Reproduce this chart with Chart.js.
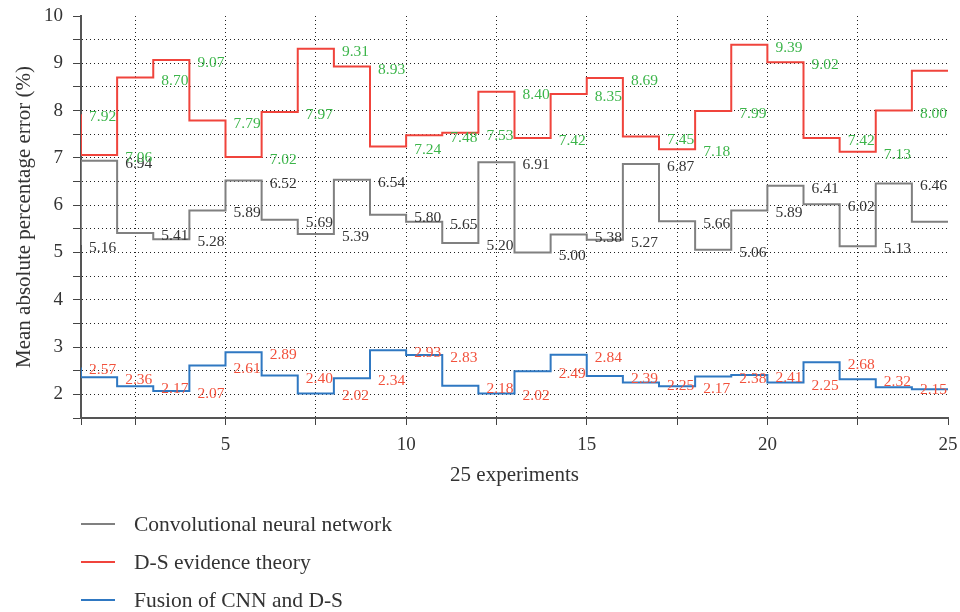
<!DOCTYPE html>
<html>
<head>
<meta charset="utf-8">
<script src="https://cdn.jsdelivr.net/npm/chart.js@4"></script>
<style>
  body { margin: 0; background: #fff; }
  #wrap { position: relative; width: 960px; height: 612px; }
  #legend {
    position: absolute; left: 81px; top: 505px;
    font-family: "Liberation Serif", "DejaVu Serif", serif;
    font-size: 21.5px; color: #333;
  }
  .row { height: 38px; display: flex; align-items: center; }
  .swatch { width: 34px; height: 2px; margin-right: 19px; }
</style>
</head>
<body>
<div id="wrap">
  <canvas id="chart" width="960" height="612"></canvas>
  <div id="legend"></div>
</div>
<script>
// Datos
const experiments = [1, 2, 3, 4, 5, 6, 7, 8, 9, 10, 11, 12, 13, 14, 15, 16, 17, 18, 19, 20, 21, 22, 23, 24, 25];
const cnnError = [5.16, 6.94, 5.41, 5.28, 5.89, 6.52, 5.69, 5.39, 6.54, 5.80, 5.65, 5.20, 6.91, 5.00, 5.38, 5.27, 6.87, 5.66, 5.06, 5.89, 6.41, 6.02, 5.13, 6.46, 5.65];
const dsError = [7.92, 7.06, 8.70, 9.07, 7.79, 7.02, 7.97, 9.31, 8.93, 7.24, 7.48, 7.53, 8.40, 7.42, 8.35, 8.69, 7.45, 7.18, 7.99, 9.39, 9.02, 7.42, 7.13, 8.00, 8.84];
const fusionError = [2.57, 2.36, 2.17, 2.07, 2.61, 2.89, 2.40, 2.02, 2.34, 2.93, 2.83, 2.18, 2.02, 2.49, 2.84, 2.39, 2.25, 2.17, 2.38, 2.41, 2.25, 2.68, 2.32, 2.15, 2.11];
const seriesNames = ["Convolutional neural network", "D-S evidence theory", "Fusion of CNN and D-S"];

const lineColors = ["#808080", "#f0443c", "#2f78c2"];
const labelColors = ["#333333", "#3cb54a", "#f2513c"];
const SERIF = "'Liberation Serif', 'DejaVu Serif', serif";

Chart.defaults.font.family = SERIF;
Chart.defaults.color = "#333";

function toPoints(values) {
  return values.map((v, i) => ({ x: experiments[i], y: v }));
}

// etiquetas de valor junto a cada escalon (el ultimo punto no lleva)
const valueLabels = {
  id: "valueLabels",
  afterDatasetsDraw(chart) {
    const { ctx, scales: { x, y } } = chart;
    ctx.save();
    ctx.font = "15.5px " + SERIF;
    ctx.textAlign = "center";
    ctx.textBaseline = "middle";
    chart.data.datasets.forEach((ds, d) => {
      ctx.fillStyle = labelColors[d];
      ds.data.slice(0, -1).forEach(p => {
        ctx.fillText(p.y.toFixed(2), x.getPixelForValue(p.x + 0.6), y.getPixelForValue(p.y) + 3);
      });
    });
    ctx.restore();
  }
};

function gridColor(lo, hi) {
  return ctx => {
    const v = ctx.tick ? ctx.tick.value : null;
    return v === lo || v === hi ? "rgba(0,0,0,0)" : "#222";
  };
}

const chart = new Chart(document.getElementById("chart"), {
  type: "line",
  data: {
    datasets: [cnnError, dsError, fusionError].map((vals, i) => ({
      label: seriesNames[i],
      data: toPoints(vals),
      borderColor: lineColors[i],
      backgroundColor: lineColors[i],
      borderWidth: 2,
      pointRadius: 0,
      stepped: "after",
      fill: false,
    })),
  },
  options: {
    responsive: false,
    animation: false,
    layout: { padding: { top: 16, right: 12, bottom: 124, left: 0 } },
    plugins: {
      legend: { display: false },
      tooltip: { enabled: false },
    },
    scales: {
      x: {
        type: "linear",
        min: 1,
        max: 25,
        afterFit: s => {
          s.height = 70;
          s.paddingLeft = 0;
          s.paddingRight = 0;
        },
        ticks: {
          stepSize: 2.5,
          autoSkip: false,
          maxRotation: 0,
          padding: 9,
          font: { size: 19 },
          color: "#333",
          callback: v => (v % 5 === 0 ? String(v) : ""),
        },
        grid: {
          color: gridColor(1, 25),
          lineWidth: 1,
          tickColor: "#444",
          tickLength: 7,
          tickBorderDash: [],
        },
        border: { display: true, color: "#555", width: 2, dash: [1, 3] },
        title: {
          display: true,
          text: "25 experiments",
          font: { size: 21 },
          color: "#333",
          padding: { top: 4, bottom: 0 },
        },
      },
      y: {
        min: 1.5,
        max: 10,
        afterFit: s => {
          s.width = 81;
          s.paddingTop = 0;
          s.paddingBottom = 0;
        },
        ticks: {
          stepSize: 0.5,
          autoSkip: false,
          padding: 10,
          font: { size: 19 },
          color: "#333",
          callback: v => (Number.isInteger(v) ? String(v) : ""),
        },
        grid: {
          color: gridColor(1.5, 10),
          lineWidth: 1,
          tickColor: "#444",
          tickLength: 8,
          tickBorderDash: [],
        },
        border: { display: true, color: "#555", width: 2, dash: [1, 3] },
        title: {
          display: true,
          text: "Mean absolute percentage error (%)",
          font: { size: 21 },
          color: "#333",
          padding: { top: 12, bottom: 0 },
        },
      },
    },
  },
  plugins: [valueLabels],
});

// leyenda vertical en HTML
const legendEl = document.getElementById("legend");
chart.data.datasets.forEach(ds => {
  const row = document.createElement("div");
  row.className = "row";
  const sw = document.createElement("span");
  sw.className = "swatch";
  sw.style.background = ds.borderColor;
  const txt = document.createElement("span");
  txt.textContent = ds.label;
  row.appendChild(sw);
  row.appendChild(txt);
  legendEl.appendChild(row);
});
</script>
</body>
</html>
